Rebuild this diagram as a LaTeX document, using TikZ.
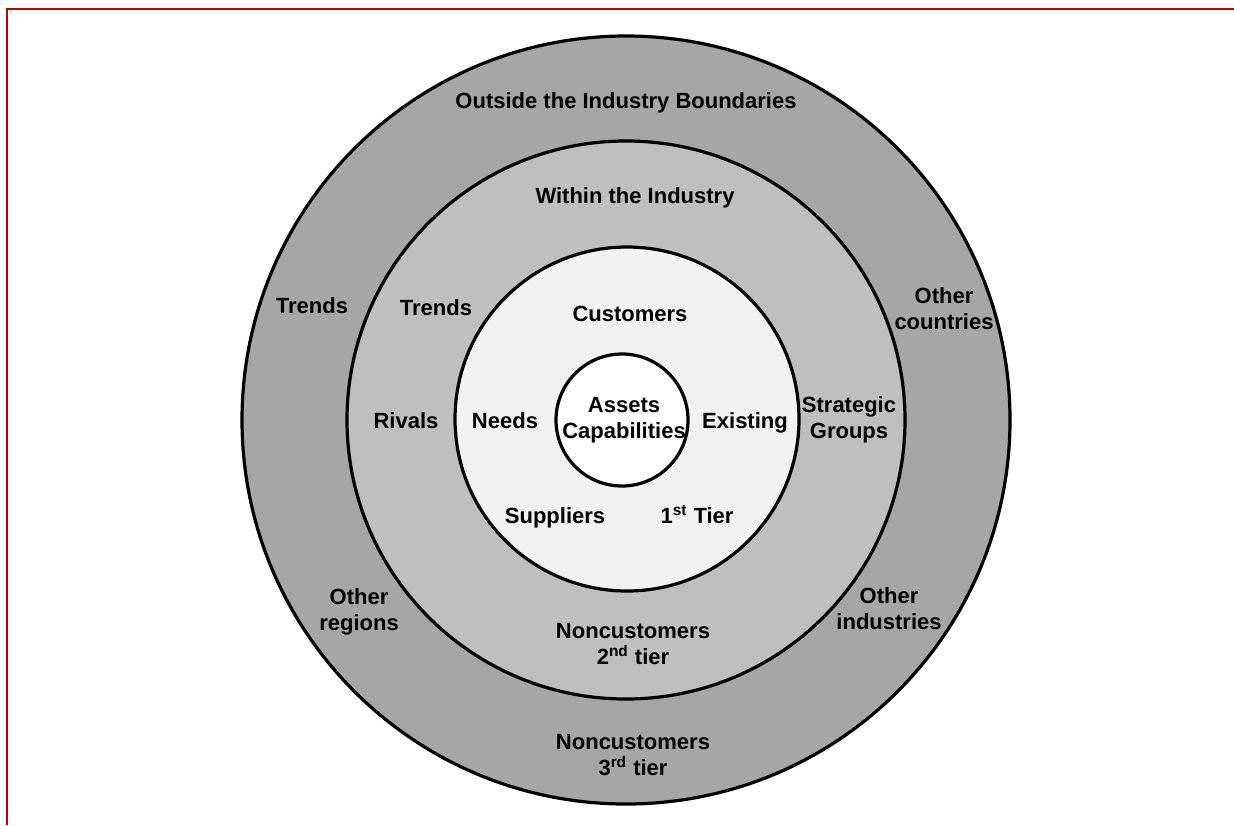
\documentclass[tikz,border=0pt]{standalone}
\usepackage{fontspec}
\setmainfont{Liberation Sans}
\usepackage{xcolor}
\definecolor{FrameRed}{HTML}{C00000}
\definecolor{OutsideGray}{HTML}{A6A6A6}
\definecolor{IndustryGray}{HTML}{BFBFBF}
\definecolor{CustomerGray}{HTML}{F2F2F2}

\begin{document}
\begin{tikzpicture}[x=0.5pt, y=-0.5pt,
                ring/.style={circle, draw, line width=1.6pt, inner sep=0pt},
                ringtext/.style={font=\bfseries\fontsize{11}{13}\selectfont, align=center, inner sep=0pt},
                frame/.style={draw=FrameRed, line width=1.4pt}
            ]

            \useasboundingbox (0,0) rectangle (1234,825);
            \draw[frame] (1234,9) -- (7,9) -- (7,825);

            % rings, outside in
            \node[ring, fill=OutsideGray, minimum size=384pt] (outside) at (626,420) {};
            \node[ring, fill=IndustryGray, minimum size=279pt] (industry) at (626,420) {};
            \node[ring, fill=CustomerGray, minimum size=172pt] (customers) at (627,419) {};
            \node[ring, fill=white, minimum size=66pt] (core) at (622,420) {};

            \node[ringtext] (outsideTitle) at (626,103) {Outside the Industry Boundaries};
            \node[ringtext] (outsideTrends) at (312,306) {Trends};
            \node[ringtext] (countries) at (944,309) {Other\\countries};
            \node[ringtext] (regions) at (359,612) {Other\\regions};
            \node[ringtext] (industries) at (889,609) {Other\\industries};
            \node[ringtext] (tier3) at (633,755) {Noncustomers\\3\textsuperscript{rd} tier};

            \node[ringtext] (industryTitle) at (635,198) {Within the Industry};
            \node[ringtext] (industryTrends) at (436,308) {Trends};
            \node[ringtext] (rivals) at (406,421) {Rivals};
            \node[ringtext] (groups) at (849,420) {Strategic\\Groups};
            \node[ringtext] (tier2) at (633,644) {Noncustomers\\2\textsuperscript{nd} tier};

            \node[ringtext] (customerTitle) at (630,314) {Customers};
            \node[ringtext] (needs) at (505,421) {Needs};
            \node[ringtext] (existing) at (745,423) {Existing};
            \node[ringtext] (suppliers) at (555,518) {Suppliers};
            \node[ringtext] (tier1) at (697,515) {1\textsuperscript{st} Tier};

            \node[ringtext] (assets) at (624,420) {Assets\\Capabilities};

        \end{tikzpicture}
\end{document}
